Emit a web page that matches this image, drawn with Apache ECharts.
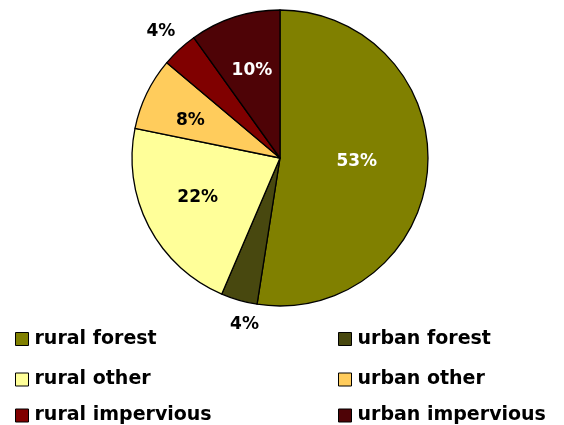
<!DOCTYPE html>
<html>
<head>
<meta charset="utf-8">
<script src="https://cdn.jsdelivr.net/npm/echarts@6/dist/echarts.min.js"></script>
<style>html,body{margin:0;padding:0;background:#fff}#c{width:564px;height:425px}</style>
</head>
<body>
<div id="c"></div>
<script>
// ---- data ----
var categories = ['rural forest', 'urban forest', 'rural other', 'urban other', 'rural impervious', 'urban impervious'];
var percentValues = [53, 4, 22, 8, 4, 10];

// ---- styles ----
var colors = ['#808000', '#48480f', '#ffff99', '#ffcc5c', '#800000', '#4e0306'];
var labelColors = ['#ffffff', '#000000', '#000000', '#000000', '#000000', '#ffffff'];
// which label ring each slice label sits on: 0 = main pie inside, 1 = mid ring, 2 = outside ring
var labelRing = [0, 2, 1, 1, 2, 1];
var labelOffsets = [[0, -2], [13, -2], [-1, -3], [-7, 3], [0, 2], [0, 0]];
var FONT = 'DejaVu Sans';

var CX = 280, CY = 158, R = 148;

function pieData(ring) {
  return categories.map(function (name, i) {
    return {
      name: name,
      value: percentValues[i],
      label: { show: labelRing[i] === ring, color: labelColors[i], offset: labelOffsets[i] }
    };
  });
}

var labelCommon = {
  position: 'inside',
  formatter: '{c}%',
  fontFamily: FONT,
  fontWeight: 'bold',
  fontSize: 17
};

function labelSeries(radiusFactor) {
  return {
    type: 'pie',
    center: [CX, CY],
    radius: [0, R * radiusFactor],
    startAngle: 90,
    clockwise: true,
    avoidLabelOverlap: false,
    silent: true,
    z: 5,
    legendHoverLink: false,
    itemStyle: { color: 'rgba(0,0,0,0)', borderWidth: 0 },
    label: labelCommon,
    labelLine: { show: false },
    emphasis: { disabled: true }
  };
}

var mid = labelSeries(1.2);
mid.data = pieData(1);
var outer = labelSeries(2.33);
outer.data = pieData(2);

var series = [
  {
    type: 'pie',
    center: [CX, CY],
    radius: [0, R],
    startAngle: 90,
    clockwise: true,
    avoidLabelOverlap: false,
    silent: true,
    color: colors,
    itemStyle: { borderColor: '#000', borderWidth: 1.3 },
    label: labelCommon,
    labelLine: { show: false },
    emphasis: { disabled: true },
    data: pieData(0)
  },
  mid,
  outer
];

// legend layout: two columns, three rows
var legendLeft = [15, 338];
var legendTop = [329.5, 370, 406];
var legends = categories.map(function (name, i) {
  return {
    data: [name],
    left: legendLeft[i % 2],
    top: legendTop[Math.floor(i / 2)],
    orient: 'horizontal',
    icon: 'rect',
    itemWidth: 13,
    itemHeight: 13,
    itemGap: 0,
    padding: 0,
    selectedMode: false,
    itemStyle: { borderColor: '#000', borderWidth: 1 },
    textStyle: { fontFamily: FONT, fontWeight: 'bold', fontSize: 19, color: '#000', padding: [0, 0, 0, 1] }
  };
});

var chart = echarts.init(document.getElementById('c'), null, { renderer: 'canvas' });
chart.setOption({
  backgroundColor: '#ffffff',
  animation: false,
  legend: legends,
  series: series
});
</script>
</body>
</html>
